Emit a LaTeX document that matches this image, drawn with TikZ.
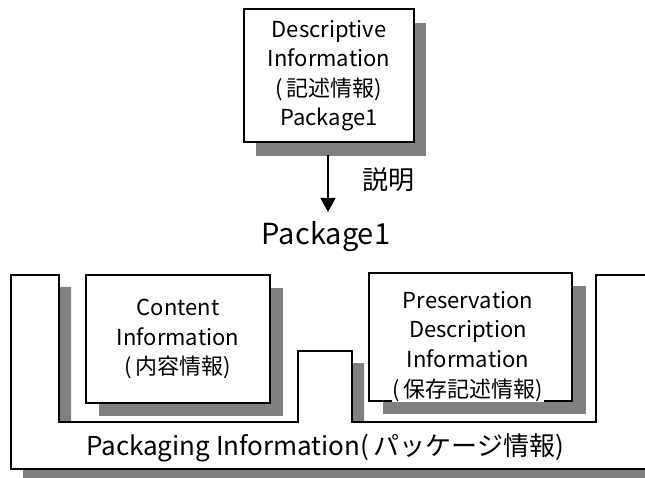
\documentclass[tikz,border=0pt]{standalone}
\usepackage{fontspec}
\setmainfont{Noto Sans CJK JP}
\usetikzlibrary{arrows.meta}
\definecolor{shadowgray}{HTML}{808080}
\begin{document}
\begin{tikzpicture}[x=1pt,y=-1pt,
  shadowfill/.style={fill=shadowgray,draw=none},
  boxframe/.style={draw=black,fill=white,line width=1.2pt,rectangle,inner sep=0pt,align=center},
  boxtext/.style={font=\fontsize{22}{29.5}\selectfont},
  bigtext/.style={font=\fontsize{26}{30}\selectfont}]
\useasboundingbox (0,0) rectangle (645,478);
\clip (0,0) rectangle (645,478);
% packaging shadow
\fill[shadowgray,shift={(12,12)}] (11,275) -- (59,275) -- (59,422) -- (298,422) -- (298,351) -- (352,351) -- (352,422) -- (596,422) -- (596,275) -- (670,275) -- (670,469) -- (11,469) -- cycle;
% packaging shape
\draw[fill=white,line width=1.2pt] (11,275) -- (59,275) -- (59,422) -- (298,422) -- (298,351) -- (352,351) -- (352,422) -- (596,422) -- (596,275) -- (670,275) -- (670,469) -- (11,469) -- cycle;
\node[bigtext,anchor=base] (pkginfo) at (325,455) {Packaging Information(\,パッケージ情報)};
% content information
\fill[shadowgray] (99,288) rectangle (283,416);
\node[boxframe,boxtext,minimum width=184pt,minimum height=128pt] (content) at (178,339)
  {Content\\Information\\(\,内容情報)};
% PDI
\fill[shadowgray] (383,286) rectangle (586,414);
\node[boxframe,minimum width=203pt,minimum height=128pt] (pdi) at (470.5,337) {};
\node[boxtext,align=center,anchor=base] (pdit) at (468,367) {Preservation\\Description\\Information};
\node[boxtext,fill=white,inner sep=1pt,anchor=base] (pdij) at (468,397) {(\,保存記述情報)};
% descriptive information
\fill[shadowgray] (256,23) rectangle (426,156);
\node[boxframe,boxtext,minimum width=170pt,minimum height=133pt] (desc) at (329,75.5)
  {Descriptive\\Information\\(\,記述情報)\\Package1};
% arrow
\coordinate (arrstart) at (328,155);
\node[font=\fontsize{29}{32}\selectfont,anchor=base] (pkg1) at (326,245) {Package1};
\draw[line width=1.3pt,-{Triangle[width=15pt,length=14pt]}] (arrstart) -- (328,212);
\node[font=\fontsize{26}{30}\selectfont,anchor=base] (setsumei) at (388,190) {説明};
\end{tikzpicture}
\end{document}
